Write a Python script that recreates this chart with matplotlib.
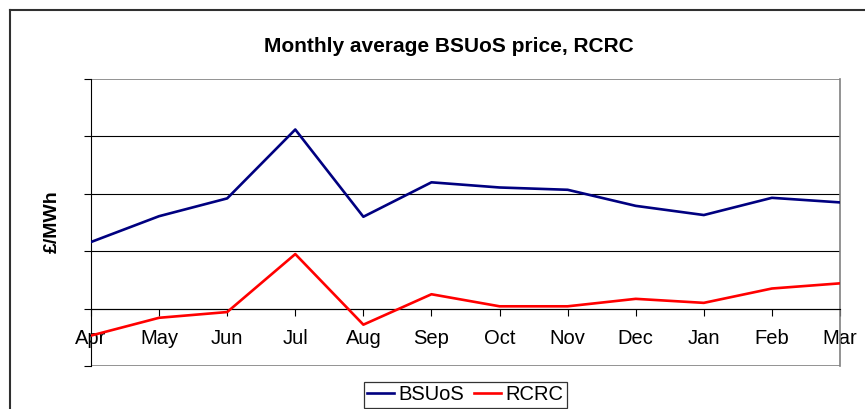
import numpy as np
import matplotlib.pyplot as plt
from matplotlib.lines import Line2D

months = ["Apr", "May", "Jun", "Jul", "Aug", "Sep", "Oct", "Nov", "Dec", "Jan", "Feb", "Mar"]
bsuos = [1.16, 1.61, 1.92, 3.12, 1.60, 2.20, 2.11, 2.07, 1.79, 1.63, 1.93, 1.85]
rcrc = [-0.47, -0.16, -0.06, 0.95, -0.28, 0.25, 0.04, 0.04, 0.17, 0.10, 0.35, 0.44]

plt.rcParams['font.family'] = ['Liberation Sans', 'DejaVu Sans']

W, H = 865, 409
fig = plt.figure(figsize=(W / 100, H / 100), dpi=100)
ax = fig.add_axes([91 / W, 1 - 366 / H, (840 - 91) / W, (366 - 79) / H])

x = np.arange(len(months))
ax.set_xlim(0, len(months) - 1)
ax.set_ylim(-1, 4)

# horizontal gridlines (Excel style)
for yv in [0, 1, 2, 3]:
    ax.axhline(yv, color="black", lw=0.8, zorder=1)
for yv in [-1, 4]:
    ax.axhline(yv, color="#808080", lw=1.2, zorder=1)

ax.plot(x, bsuos, color="#000080", lw=1.9, label="BSUoS", zorder=3)
ax.plot(x, rcrc, color="#FF0000", lw=1.9, label="RCRC", zorder=3)

# spines
ax.spines['top'].set_visible(False)
ax.spines['right'].set_color("#808080")
ax.spines['right'].set_linewidth(1.2)
ax.spines['left'].set_color("black")
ax.spines['left'].set_linewidth(0.8)
ax.spines['bottom'].set_position(('data', 0))
ax.spines['bottom'].set_color("black")
ax.spines['bottom'].set_linewidth(0.8)

ax.set_yticks(np.arange(-1, 5))
ax.set_yticklabels([])
ax.tick_params(axis='y', direction='out', length=5, width=0.8, color="black")
ax.set_xticks(x)
ax.set_xticklabels(months, fontsize=14.5)
ax.tick_params(axis='x', direction='out', length=5, width=0.8, color="black", pad=10)

fig.text(449 / W, 1 - 52 / H, "Monthly average BSUoS price, RCRC", fontsize=15,
         fontweight="bold", ha="center", va="baseline")
fig.text(52 / W, 1 - 222 / H, "£/MWh", fontsize=14, fontweight="bold",
         rotation=90, ha="center", va="center")

leg = fig.legend(loc="center", bbox_to_anchor=(465.5 / W, 1 - 395 / H), ncol=2,
                 fontsize=14.5, frameon=True, fancybox=False, handlelength=1.3,
                 handletextpad=0.25, columnspacing=0.5, borderpad=0.15,
                 borderaxespad=0)
leg.get_frame().set_edgecolor("black")
leg.get_frame().set_linewidth(0.9)

# outer chart frame
fig.add_artist(Line2D([10 / W, 10 / W], [1 - 10 / H, -0.1], color="#303030", lw=1.5))
fig.add_artist(Line2D([10 / W, 1.1], [1 - 10 / H, 1 - 10 / H], color="#303030", lw=1.5))

fig.savefig("out.png", dpi=100)
plt.close(fig)
